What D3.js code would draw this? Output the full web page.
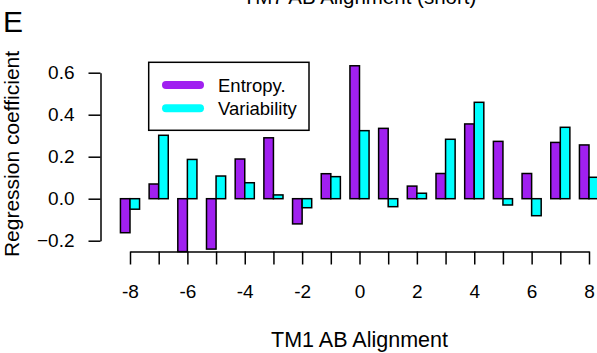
<!DOCTYPE html>
<html>
<head>
<meta charset="utf-8">
<script src="https://cdn.jsdelivr.net/npm/d3@7"></script>
<style>
  html, body { margin: 0; padding: 0; background: #fff; }
  svg { display: block; font-family: "Liberation Sans", Arial, Helvetica, sans-serif; }
</style>
</head>
<body>
<svg id="chart" width="597" height="353"></svg>
<script>
// Alignment offsets (TM1 AB alignment positions)
const positions = [-8, -7, -6, -5, -4, -3, -2, -1, 0, 1, 2, 3, 4, 5, 6, 7, 8];
// Regression coefficients per position
const entropy = [-0.162, 0.070, -0.252, -0.240, 0.189, 0.290, -0.120, 0.119, 0.633,
                 0.335, 0.060, 0.120, 0.356, 0.273, 0.120, 0.268, 0.256];
const variability = [-0.050, 0.302, 0.187, 0.108, 0.076, 0.018, -0.043, 0.105, 0.324,
                     -0.038, 0.026, 0.283, 0.459, -0.030, -0.081, 0.340, 0.102];
const seriesNames = ["Entropy.", "Variability"];
const seriesColors = ["#A020F0", "#00FFFF"];
const yTicks = [-0.2, 0.0, 0.2, 0.4, 0.6];
const xTickLabels = [-8, -6, -4, -2, 0, 2, 4, 6, 8];

const svg = d3.select("#chart");

const x = d3.scaleLinear().domain([-8, 8]).range([130, 589]);
const y = d3.scaleLinear().domain([-0.2, 0.6]).range([240.7, 72.7]);
const step = x(1) - x(0);
const bw = step / 3;

// Bars: two per position, side by side, centred on the tick
const series = [entropy, variability];
series.forEach((vals, si) => {
  svg.append("g")
    .selectAll("rect")
    .data(positions.map((p, i) => ({ p, v: vals[i] })))
    .join("rect")
    .attr("x", d => x(d.p) - bw + si * bw)
    .attr("y", d => Math.min(y(d.v), y(0)))
    .attr("width", bw)
    .attr("height", d => Math.abs(y(d.v) - y(0)))
    .attr("fill", seriesColors[si])
    .attr("stroke", "#000")
    .attr("stroke-width", 1.5);
});

// Y axis
const yAxis = svg.append("g")
  .attr("transform", "translate(100.5,0)")
  .call(d3.axisLeft(y).tickValues(yTicks).tickFormat(d3.format(".1f"))
    .tickSize(12).tickSizeOuter(0).tickPadding(14));
yAxis.select(".domain").attr("stroke", "#000").attr("stroke-width", 1.5);
yAxis.selectAll(".tick line").attr("stroke", "#000").attr("stroke-width", 1.5);
yAxis.selectAll(".tick text").attr("font-size", 19).attr("fill", "#000")
  .attr("font-family", "Liberation Sans, Arial, sans-serif");

// X axis
const xAxis = svg.append("g")
  .attr("transform", "translate(0,251.5)")
  .call(d3.axisBottom(x).tickValues(positions)
    .tickFormat(d => xTickLabels.includes(d) ? String(d) : "")
    .tickSize(13).tickSizeOuter(0).tickPadding(20));
xAxis.select(".domain").attr("stroke", "#000").attr("stroke-width", 1.5);
xAxis.selectAll(".tick line").attr("stroke", "#000").attr("stroke-width", 1.5);
xAxis.selectAll(".tick text").attr("font-size", 19).attr("fill", "#000")
  .attr("font-family", "Liberation Sans, Arial, sans-serif");

// Axis titles
svg.append("text")
  .attr("x", 359.5).attr("y", 347)
  .attr("text-anchor", "middle")
  .attr("font-size", 21.5)
  .text("TM1 AB Alignment");

svg.append("text")
  .attr("transform", "translate(19,154) rotate(-90)")
  .attr("text-anchor", "middle")
  .attr("font-size", 21)
  .text("Regression coefficient");

// Panel title (top, partly outside the frame)
svg.append("text")
  .attr("x", 359.5).attr("y", 4)
  .attr("text-anchor", "middle")
  .attr("font-size", 20.5)
  .text("TM7 AB Alignment (short)");

// Panel letter
svg.append("text")
  .attr("x", 3).attr("y", 32)
  .attr("font-size", 30)
  .text("E");

// Legend
const legend = svg.append("g");
legend.append("rect")
  .attr("x", 148.7).attr("y", 62.3)
  .attr("width", 160.3).attr("height", 68)
  .attr("fill", "#fff").attr("stroke", "#000").attr("stroke-width", 1.5);
const items = legend.selectAll("g.item")
  .data(seriesNames.map((n, i) => ({ n, c: seriesColors[i], i })))
  .join("g").attr("class", "item")
  .attr("transform", d => `translate(0,${85 + d.i * 23.3})`);
items.append("line")
  .attr("x1", 166).attr("x2", 200)
  .attr("stroke", d => d.c).attr("stroke-width", 8).attr("stroke-linecap", "round");
items.append("text")
  .attr("x", 218).attr("y", 6.5)
  .attr("font-size", 18.5)
  .text(d => d.n);
</script>
</body>
</html>
